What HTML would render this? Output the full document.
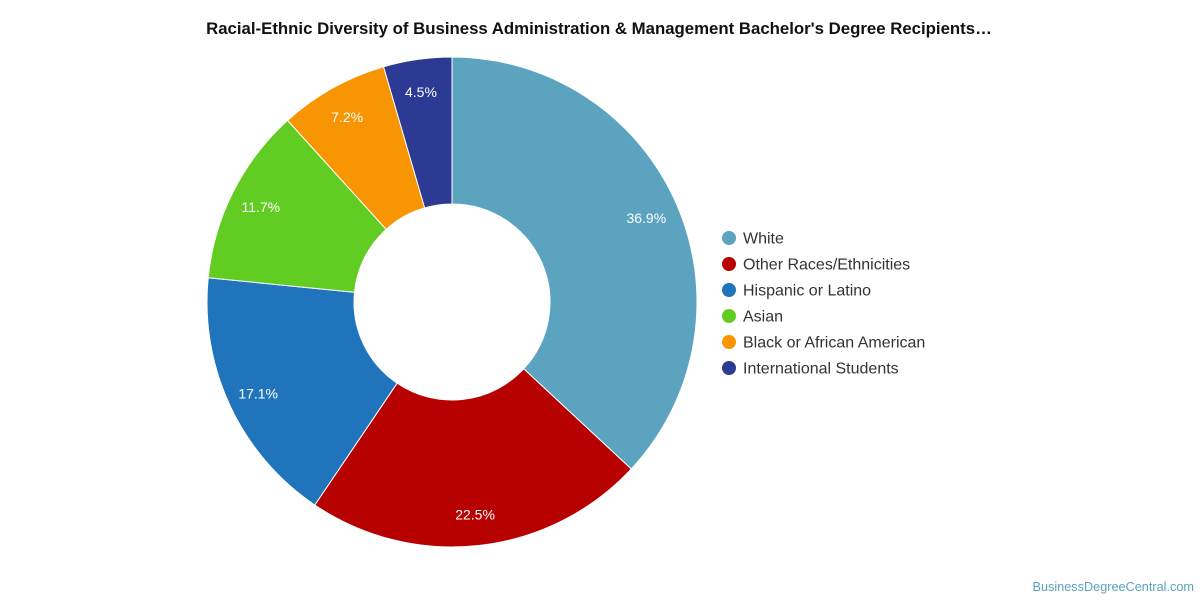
<!DOCTYPE html>
<html><head><meta charset="utf-8"><style>
html,body{margin:0;padding:0;background:#fff;}
body{width:1200px;height:600px;overflow:hidden;font-family:"Liberation Sans",sans-serif;}
</style></head><body>
<svg id="chart" width="1200" height="600" xmlns="http://www.w3.org/2000/svg">
<text x="599" y="34" text-anchor="middle" font-size="16.8" font-weight="bold" fill="#111" font-family="Liberation Sans, sans-serif">Racial-Ethnic Diversity of Business Administration &amp; Management Bachelor's Degree Recipients…</text>
<g id="slices"></g>
<g id="labels"></g>
<g id="legend"></g>
<text x="1194" y="591" text-anchor="end" font-size="12.7" fill="#5ba3bf" font-family="Liberation Sans, sans-serif">BusinessDegreeCentral.com</text>
</svg>
<script>
const categories = ["White","Other Races/Ethnicities","Hispanic or Latino","Asian","Black or African American","International Students"];
const values = [36.9,22.5,17.1,11.7,7.2,4.5];
const colors = ["#5ba3bf","#b70000","#1f74bb","#61cd22","#f89502","#2d3a93"];
const NS="http://www.w3.org/2000/svg";
const cx=452, cy=302, R=245, r=98, LR=213;
const total=values.reduce((a,b)=>a+b,0);
function pt(rad,a){return [cx+rad*Math.sin(a), cy-rad*Math.cos(a)];}
let acc=0;
const gS=document.getElementById('slices'), gL=document.getElementById('labels'), gG=document.getElementById('legend');
values.forEach((v,i)=>{
  const a0=acc/total*2*Math.PI; acc+=v; const a1=acc/total*2*Math.PI;
  const large=(a1-a0)>Math.PI?1:0;
  const [x0,y0]=pt(R,a0),[x1,y1]=pt(R,a1),[x2,y2]=pt(r,a1),[x3,y3]=pt(r,a0);
  const p=document.createElementNS(NS,'path');
  p.setAttribute('d',`M${x0},${y0}A${R},${R} 0 ${large} 1 ${x1},${y1}L${x2},${y2}A${r},${r} 0 ${large} 0 ${x3},${y3}Z`);
  p.setAttribute('fill',colors[i]);p.setAttribute('stroke','#fff');p.setAttribute('stroke-width','1');
  
  
  gS.appendChild(p);
  const [lx,ly]=pt(LR,(a0+a1)/2);
  const t=document.createElementNS(NS,'text');
  t.setAttribute('x',lx-1);t.setAttribute('y',ly+6);t.setAttribute('text-anchor','middle');
  t.setAttribute('font-size','14');t.setAttribute('fill','#fff');
  t.textContent=v.toFixed(1)+'%';
  
  
  gL.appendChild(t);
  const y=238+i*26;
  const c=document.createElementNS(NS,'circle');
  c.setAttribute('cx',729);c.setAttribute('cy',y);c.setAttribute('r',7);c.setAttribute('fill',colors[i]);
  
  
  gG.appendChild(c);
  const lt=document.createElementNS(NS,'text');
  lt.setAttribute('x',743);lt.setAttribute('y',y+5.5);lt.setAttribute('font-size','16');lt.setAttribute('fill','#333');
  lt.textContent=categories[i];
  
  
  gG.appendChild(lt);
});
</script>
</body></html>
